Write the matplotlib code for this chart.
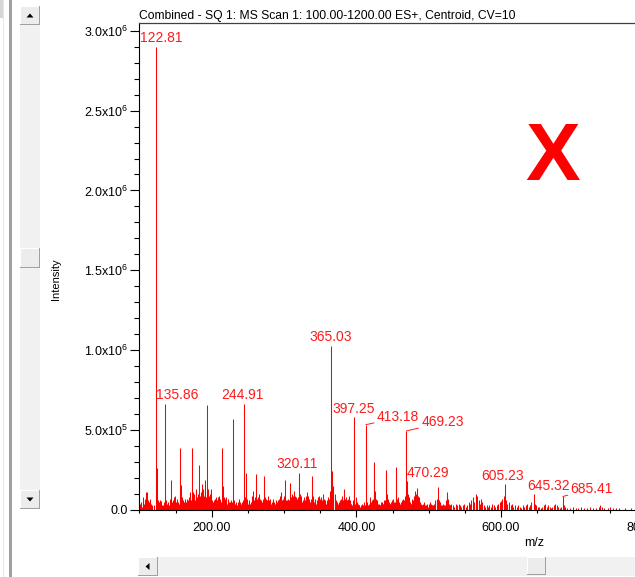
import numpy as np
import matplotlib.pyplot as plt
from matplotlib.patches import Rectangle, Polygon
from matplotlib.ticker import MultipleLocator, FuncFormatter

plt.rcParams['font.family'] = ['Liberation Sans', 'DejaVu Sans']
plt.rcParams['mathtext.fontset'] = 'custom'
plt.rcParams['mathtext.rm'] = 'Liberation Sans'
plt.rcParams['mathtext.default'] = 'regular'

W, H = 635, 577

# labelled peaks (m/z, intensity)
label_mz = [122.81, 135.86, 244.91, 320.11, 365.03, 397.25, 413.18,
            469.23, 470.29, 605.23, 645.32, 685.41]
label_int = [2.90e6, 0.664e6, 0.664e6, 0.23e6, 1.027e6, 0.58e6, 0.534e6,
             0.495e6, 0.18e6, 0.16e6, 0.10e6, 0.085e6]

# other prominent peaks
major_mz = [123.8, 143.7, 156.6, 158.0, 172.3, 173.5, 182.0, 191.0, 193.0,
            195.0, 213.8, 215.0, 229.8, 247.0, 261.2, 272.3, 301.3, 308.0,
            338.5, 366.2, 383.3, 424.0, 440.5, 454.8, 483.4, 512.4, 525.3,
            565.0, 572.3, 600.0, 737.0]
major_int = [0.26e6, 0.19e6, 0.386e6, 0.157e6, 0.386e6, 0.11e6, 0.28e6,
             0.19e6, 0.66e6, 0.13e6, 0.386e6, 0.15e6, 0.568e6, 0.23e6,
             0.224e6, 0.21e6, 0.19e6, 0.17e6, 0.21e6, 0.244e6, 0.13e6,
             0.30e6, 0.25e6, 0.267e6, 0.136e6, 0.146e6, 0.113e6, 0.098e6,
             0.067e6, 0.058e6, 0.03e6]

# low-level centroids (x 1e6)
minor_mz = [
    101.2, 103.6, 105.4, 107.1, 109.6, 111.0, 112.8, 114.3, 116.2, 118.0,
    119.7, 125.4, 127.2, 129.6, 131.3, 133.1, 138.2, 140.1, 141.9, 146.0,
    147.8, 149.5, 151.3, 153.2, 160.1, 162.0, 164.2, 166.0, 168.1, 170.0,
    175.2, 177.0, 178.8, 180.3, 184.1, 186.0, 187.8, 189.4, 196.8, 198.7,
    200.5, 202.3, 204.0, 206.1, 208.0, 210.2, 217.1, 219.0, 221.2, 223.0,
    225.1, 227.3, 232.0, 234.1, 236.0, 238.2, 240.1, 242.3, 249.1, 251.0,
    253.2, 255.0, 257.1, 259.2, 263.0, 265.1, 267.0, 269.2, 274.1, 276.0,
    278.1, 280.2, 282.0, 284.1, 286.3, 288.0, 290.1, 292.2, 294.0, 296.1,
    298.0, 299.6, 303.0, 305.1, 310.1, 312.0, 314.2, 316.1, 318.0, 322.1,
    324.0, 326.2, 328.0, 330.1, 332.2, 334.0, 336.1, 340.3, 342.1, 344.0,
    346.2, 348.0, 350.1, 352.2, 354.0, 356.1, 358.0, 360.2, 362.0, 363.6,
    368.0, 369.8, 371.9, 374.1, 376.0, 378.2, 380.1, 381.9, 385.0, 387.2,
    389.1, 391.0, 393.2, 395.0, 399.1, 401.2, 403.0, 405.1, 407.2, 409.0,
    411.1, 415.0, 417.2, 419.1, 421.0, 426.1, 428.0, 430.2, 432.1, 434.0,
    436.2, 438.1, 442.3, 444.1, 446.2, 448.0, 450.1, 452.2, 456.9, 459.0,
    461.2, 463.0, 465.1, 467.0, 471.5, 473.2, 475.0, 477.1, 479.2, 481.0,
    485.2, 487.0, 489.1, 491.2, 493.0, 495.1, 497.0, 499.2, 501.1, 503.0,
    505.2, 507.1, 509.0, 510.8, 514.3, 516.1, 518.0, 520.2, 522.1, 527.2,
    529.0, 531.1, 533.0, 535.2, 537.1, 539.0, 541.2, 543.0, 545.1, 547.2,
    549.0, 551.1, 553.0, 555.2, 557.1, 559.0, 561.2, 563.0, 567.1, 569.0,
    571.0, 574.2, 576.1, 578.0, 580.2, 582.1, 584.0, 586.2, 588.1, 590.0,
    592.2, 594.1, 596.0, 598.1, 602.0, 603.4, 606.8, 608.9, 611.0, 613.1,
    615.2, 617.0, 619.8, 622.1, 624.0, 626.3, 628.1, 630.2, 632.0, 634.1,
    636.2, 638.0, 640.1, 642.0, 647.1, 649.0, 651.2, 653.1, 655.0, 657.2,
    659.1, 661.0, 663.2, 665.1, 667.0, 669.2, 671.1, 673.0, 675.1, 677.0,
    679.2, 681.0, 683.1, 687.2, 689.0, 691.1, 695.2, 699.0, 703.1, 707.0,
    711.2, 715.1, 719.0, 723.2, 727.1, 731.0, 735.0, 739.1, 743.0, 747.2,
    751.1, 755.0, 759.2, 763.0, 771.0, 779.0]
minor_int = [
    .04, .02, .03, .06, .115, .11, .05, .07, .04, .02,
    .03, .06, .05, .055, .03, .02, .04, .03, .05, .04,
    .08, .06, .03, .05, .06, .03, .04, .07, .05, .11,
    .09, .06, .13, .08, .07, .16, .12, .09, .09, .13,
    .06, .04, .07, .08, .05, .09, .08, .05, .04, .07,
    .05, .06, .04, .03, .05, .07, .04, .05, .06, .05,
    .04, .09, .12, .08, .06, .10, .07, .05, .08, .06,
    .09, .05, .04, .07, .05, .03, .05, .06, .08, .11,
    .07, .09, .06, .07, .08, .09, .12, .08, .07, .10,
    .07, .06, .08, .09, .11, .07, .05, .08, .06, .04,
    .05, .09, .07, .05, .10, .06, .04, .05, .07, .09,
    .15, .10, .06, .04, .05, .07, .09, .06, .08, .06,
    .09, .06, .04, .05, .08, .05, .03, .02, .04, .03,
    .05, .05, .03, .08, .06, .12, .06, .04, .03, .05,
    .04, .06, .10, .06, .04, .05, .07, .05, .08, .05,
    .04, .06, .07, .09, .10, .06, .04, .07, .09, .12,
    .09, .06, .04, .03, .05, .03, .04, .02, .05, .04,
    .03, .04, .06, .07, .06, .04, .03, .04, .03, .05,
    .03, .04, .03, .02, .04, .03, .04, .03, .02, .03,
    .04, .02, .03, .05, .04, .06, .08, .05, .09, .06,
    .04, .05, .03, .02, .03, .02, .03, .02, .04, .03,
    .02, .03, .04, .05, .07, .09, .06, .04, .05, .03,
    .04, .02, .03, .02, .03, .02, .01, .03, .02, .03,
    .04, .02, .03, .05, .04, .03, .02, .02, .01, .02,
    .03, .04, .02, .03, .02, .01, .02, .03, .04, .03,
    .02, .01, .02, .03, .02, .01, .01, .02, .01, .01,
    .02, .01, .01, .02, .01, .01, .02, .02, .01, .01,
    .02, .01, .01, .01, .01, .01]

# second set of low-level centroids in the busy low-mass region (m/z, x 1e6)
minor2 = [
    (100.4, .03), (102.4, .05), (104.5, .08), (106.2, .04), (108.3, .07),
    (110.3, .09), (111.9, .06), (113.6, .03), (115.2, .05), (117.1, .03),
    (120.8, .02), (124.6, .07), (126.3, .04), (128.4, .06), (130.5, .04),
    (132.2, .03), (134.3, .05), (137.1, .06), (139.2, .05), (141.0, .03),
    (142.9, .07), (145.0, .05), (146.9, .06), (148.7, .09), (150.4, .05),
    (152.2, .07), (154.5, .04), (155.6, .06), (159.1, .08), (161.1, .05),
    (163.0, .07), (165.1, .05), (167.1, .06), (169.1, .08), (171.2, .06),
    (174.3, .07), (176.1, .10), (177.9, .08), (179.6, .06), (181.2, .10),
    (183.1, .09), (185.0, .11), (186.9, .08), (188.6, .13), (190.2, .10),
    (192.1, .08), (194.1, .12), (196.0, .07), (197.8, .10), (199.6, .08),
    (201.4, .05), (203.2, .06), (205.1, .07), (207.0, .06), (209.1, .08),
    (211.2, .07), (212.5, .05), (216.0, .06), (218.1, .07), (220.1, .08),
    (222.1, .06), (224.0, .05), (226.2, .04), (228.3, .05), (231.0, .06),
    (233.1, .05), (235.0, .03), (237.1, .06), (239.2, .05), (241.2, .03),
    (243.3, .06), (246.0, .08), (248.1, .07), (250.0, .04), (252.1, .06),
    (254.1, .05), (256.1, .07), (258.2, .06), (260.1, .04), (262.1, .07),
    (264.0, .08), (266.1, .05), (268.1, .06), (270.2, .04), (271.2, .07),
    (273.2, .05), (275.1, .07), (277.0, .05), (279.2, .06), (281.1, .07),
    (283.0, .05), (285.2, .06), (287.1, .04), (289.1, .06), (291.2, .04),
    (293.1, .07), (295.0, .09), (297.1, .06), (300.4, .08), (302.1, .05),
    (304.0, .06), (306.2, .04), (307.1, .06), (309.1, .07), (311.0, .10),
    (313.1, .08), (315.2, .09), (317.0, .06), (319.1, .08), (321.1, .06),
    (323.0, .09), (325.1, .05), (327.1, .07), (329.0, .06), (331.2, .08),
    (333.1, .09), (335.0, .06), (337.2, .07), (339.5, .09), (341.2, .05),
    (343.1, .07), (345.0, .06), (347.1, .08), (349.1, .06), (351.0, .08),
    (353.1, .06), (355.2, .07), (357.0, .05), (359.1, .06), (361.1, .08),
    (364.2, .12), (367.1, .11), (370.9, .08), (373.0, .05), (375.1, .03),
    (377.0, .06), (379.1, .05), (383.9, .07), (386.0, .05), (388.1, .07),
    (390.1, .05), (392.0, .04), (394.1, .03), (396.0, .06), (398.2, .04),
    (400.1, .06), (402.0, .04), (404.1, .03), (406.0, .03), (408.1, .02),
    (410.0, .04), (412.1, .03), (414.1, .04), (416.0, .03), (418.1, .04),
    (420.0, .05), (422.9, .07), (425.0, .09), (427.0, .07), (429.1, .05),
    (431.0, .04), (433.1, .03), (435.0, .05), (437.1, .04), (439.2, .06),
    (441.3, .08), (443.1, .07), (445.0, .05), (447.1, .04), (449.0, .06),
    (451.1, .04), (453.2, .05), (455.9, .07), (458.0, .06), (460.1, .04),
    (462.1, .05), (464.0, .04), (466.1, .06), (468.1, .08), (472.3, .08),
    (474.1, .05), (476.0, .04), (478.1, .06), (480.1, .08), (482.1, .10),
    (484.3, .09), (486.1, .08), (488.0, .05), (490.1, .03), (492.1, .04),
    (494.0, .02), (496.1, .03), (498.0, .03), (500.1, .04), (502.1, .02),
    (504.0, .03), (506.1, .03), (508.0, .05), (511.6, .06), (513.3, .08),
    (515.2, .05), (517.0, .03), (519.1, .02), (521.0, .03), (523.2, .04),
    (524.3, .06), (526.2, .07), (528.1, .04), (530.0, .03)]

title = "Combined - SQ 1: MS Scan 1: 100.00-1200.00 ES+, Centroid, CV=10"


def fx(px):
    return px / W


def fy(py):
    return 1 - py / H


fig = plt.figure(figsize=(W / 100, H / 100), dpi=100)
fig.patch.set_facecolor('white')

# plot area: left spine at x=139.4px, y=0 at 510px, top frame at 22.7px
x0, x1 = 100, 1200
ppu = 0.7233
ax = fig.add_axes([fx(139.4), fy(510), (x1 - x0) * ppu / W, (510 - 22.7) / H])
ax.set_xlim(x0, x1)
ax.set_ylim(0, 3.05e6)

minor2_mz = [m for m, _ in minor2]
minor2_int = [v for _, v in minor2]
mz = np.concatenate([minor_mz, minor2_mz, major_mz, label_mz])
inten = np.concatenate([np.array(minor_int) * 1e6, np.array(minor2_int) * 1e6,
                        major_int, label_int])
ax.vlines(mz, 0, inten, color='#ff0000', lw=0.75)

# peak labels: offsets in pixels from the peak top to the text baseline
offsets = {122.81: (5, 5), 135.86: (12, 5), 244.91: (-2, 5), 320.11: (-2, 5),
           365.03: (0, 4.5), 397.25: (-1, 4), 413.18: (32, 4), 469.23: (36, 5),
           470.29: (21, 4.5), 605.23: (-2, 4.5), 645.32: (15, 4), 685.41: (29, 3.5)}
leaders = {413.18, 469.23, 685.41}
for m, h in zip(label_mz, label_int):
    dx, dy = offsets[m]
    if m in leaders:
        ax.annotate(f"{m:.2f}", (m, h), xytext=(dx, dy), textcoords='offset pixels',
                    ha='center', va='baseline', color='#ff1a1a', fontsize=10,
                    arrowprops=dict(arrowstyle='-', color='#ff1a1a', lw=0.7,
                                    shrinkA=0, shrinkB=0, relpos=(0, 0.1)))
    else:
        ax.annotate(f"{m:.2f}", (m, h), xytext=(dx, dy), textcoords='offset pixels',
                    ha='center', va='baseline', color='#ff1a1a', fontsize=10)

ax.spines['right'].set_visible(False)
ax.spines['left'].set_linewidth(0.8)
ax.spines['bottom'].set_linewidth(0.8)
ax.spines['top'].set_linewidth(0.9)
ax.spines['top'].set_color('#404040')

ax.xaxis.set_major_locator(MultipleLocator(200))
ax.xaxis.set_minor_locator(MultipleLocator(50))
ax.yaxis.set_major_locator(MultipleLocator(0.5e6))
ax.yaxis.set_minor_locator(MultipleLocator(0.1e6))
ax.xaxis.set_major_formatter(FuncFormatter(lambda v, p: f"{v:.2f}"))


def sci(v, pos):
    if v < 1:
        return "0.0" if v > -1 else ""
    e = int(np.floor(np.log10(v)))
    return f"{v / 10 ** e:.1f}x10$^{{{e}}}$"


ax.yaxis.set_major_formatter(FuncFormatter(sci))
ax.tick_params(axis='x', which='major', length=5, width=0.8, pad=3.5, labelsize=9)
ax.tick_params(axis='x', which='minor', length=2.5, width=0.8)
ax.tick_params(axis='y', which='major', length=6.5, width=0.8, pad=1.5, labelsize=9)
ax.tick_params(axis='y', which='minor', length=3.5, width=0.8)

fig.text(fx(139), fy(19), title, fontsize=8.75, ha='left', va='baseline')
fig.text(fx(56), fy(279), "Intensity", fontsize=8, rotation=90, ha='center', va='center')
fig.text(fx(534), fy(543), "m/z", fontsize=9, ha='center', va='center')
fig.text(fx(552.5), fy(180), "X", fontsize=59, fontweight='bold', color='#ff0000',
         ha='center', va='baseline')


def rect(x, y, w, h, fc, ec='none', lw=0):
    fig.add_artist(Rectangle((fx(x), fy(y + h)), w / W, h / H, transform=fig.transFigure,
                             facecolor=fc, edgecolor=ec, lw=lw))


def button(x, y, w=20, h=19):
    rect(x, y, w, h, '#ececec')
    rect(x, y + h - 1.5, w, 1.5, '#a0a0a0')
    rect(x + w - 1.5, y, 1.5, h, '#a0a0a0')
    rect(x, y, w - 1.5, 1, '#ffffff')
    rect(x, y, 1, h - 1.5, '#ffffff')


def tri(pts):
    fig.add_artist(Polygon([(fx(a), fy(b)) for a, b in pts], closed=True,
                           transform=fig.transFigure, facecolor='black', edgecolor='none'))


# window frame on the left
rect(0, 0, 3, 18, '#d6d6d6')
rect(3, 0, 1, H, '#e6e6e6')
rect(9, 0, 2.5, H, '#a0a0a0')

# vertical scrollbar
rect(20, 25, 20, 465, '#f1f1f1')
button(20, 6)
tri([(26.5, 17.5), (33.5, 17.5), (30, 13.5)])
button(20, 248, h=20)
button(20, 490)
tri([(26.5, 497.5), (33.5, 497.5), (30, 501.5)])

# horizontal scrollbar
rect(158, 557, 477, 19, '#f1f1f1')
button(138, 557)
tri([(149.5, 563), (149.5, 570), (145.5, 566.5)])
button(527, 557, w=19, h=18)

fig.savefig('out.png', dpi=100)
